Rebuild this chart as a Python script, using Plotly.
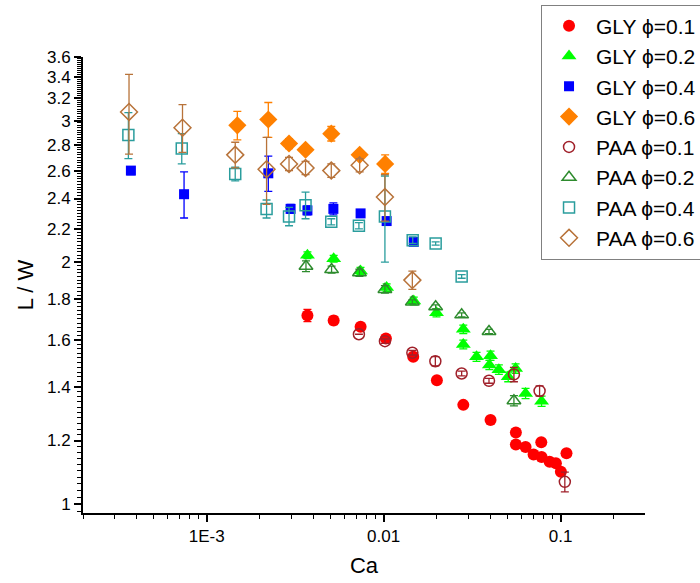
import numpy as np
import plotly.graph_objects as go

# ---------------- data ----------------
gly01_ca = [3.71e-3, 5.22e-3, 7.41e-3, 0.0103, 0.0147, 0.0200, 0.0282, 0.0402, 0.0559, 0.0559,
            0.0634, 0.0778, 0.0704, 0.0781, 0.0867, 0.0941, 0.1004, 0.108]
gly01_lw = [1.717, 1.692, 1.662, 1.607, 1.525, 1.426, 1.329, 1.273, 1.228, 1.186,
            1.178, 1.194, 1.153, 1.145, 1.129, 1.124, 1.097, 1.157]
gly01_err = [0.03, 0.02, 0.01, 0.01, 0.01, 0.0, 0.0, 0.0, 0.01, 0.0,
             0.0, 0.0, 0.0, 0.0, 0.0, 0.0, 0.0, 0.0]

gly02_ca = [3.71e-3, 5.22e-3, 7.4e-3, 0.0104, 0.0148, 0.0199, 0.0282, 0.0282, 0.0335, 0.0402,
            0.0396, 0.0448, 0.0506, 0.0557, 0.0634, 0.0781]
gly02_lw = [2.04, 2.02, 1.95, 1.86, 1.79, 1.73, 1.65, 1.58, 1.525, 1.53,
            1.49, 1.47, 1.44, 1.475, 1.373, 1.343]
gly02_err = [0.02, 0.02, 0.02, 0.02, 0.02, 0.02, 0.02, 0.02, 0.02, 0.02,
             0.02, 0.02, 0.02, 0.02, 0.02, 0.02]

gly04_ca = [3.73e-4, 7.45e-4, 2.23e-3, 2.98e-3, 3.71e-3, 5.2e-3, 7.41e-3, 0.0104, 0.0148]
gly04_lw = [2.60, 2.43, 2.58, 2.33, 2.32, 2.33, 2.30, 2.25, 2.12]
gly04_err = [0.03, 0.16, 0.13, 0.03, 0.03, 0.04, 0.02, 0.02, 0.01]

gly06_ca = [1.49e-3, 2.23e-3, 2.92e-3, 3.62e-3, 5.06e-3, 7.32e-3, 0.0102]
gly06_lw = [2.96, 3.01, 2.81, 2.76, 2.89, 2.72, 2.65]
gly06_err = [0.12, 0.15, 0.04, 0.03, 0.06, 0.03, 0.07]

paa01_ca = [7.25e-3, 0.01017, 0.01453, 0.0196, 0.0276, 0.0394, 0.0545, 0.0761, 0.1057]
paa01_lw = [1.627, 1.595, 1.543, 1.506, 1.454, 1.424, 1.45, 1.383, 1.066]
paa01_err = [0.0, 0.01, 0.01, 0.02, 0.01, 0.01, 0.03, 0.02, 0.03]

paa02_ca = [3.64e-3, 5.08e-3, 7.3e-3, 0.01017, 0.01453, 0.01968, 0.0276, 0.0394, 0.0545]
paa02_lw = [1.977, 1.958, 1.94, 1.85, 1.785, 1.76, 1.72, 1.64, 1.345]
paa02_err = [0.03, 0.02, 0.02, 0.02, 0.01, 0.01, 0.01, 0.01, 0.02]

paa04_ca = [3.61e-4, 7.23e-4, 1.45e-3, 2.18e-3, 2.92e-3, 3.62e-3, 5.06e-3, 7.25e-3, 0.01017,
            0.0146, 0.01968, 0.0276]
paa04_lw = [2.88, 2.77, 2.575, 2.33, 2.28, 2.355, 2.245, 2.22, 2.28, 2.13, 2.11, 1.92]
paa04_err = [0.19, 0.12, 0.05, 0.06, 0.06, 0.09, 0.02, 0.02, 0.28, 0.02, 0.01, 0.01]

paa06_ca = [3.64e-4, 7.3e-4, 1.45e-3, 2.18e-3, 2.92e-3, 3.62e-3, 5.06e-3, 7.32e-3, 0.01017, 0.01453]
paa06_lw = [3.076, 2.94, 2.72, 2.61, 2.65, 2.62, 2.60, 2.64, 2.41, 1.90]
paa06_err = [0.35, 0.2, 0.1, 0.25, 0.05, 0.05, 0.05, 0.05, 0.16, 0.05]

y_ticks = [1, 1.2, 1.4, 1.6, 1.8, 2, 2.2, 2.4, 2.6, 2.8, 3, 3.2, 3.4, 3.6]
y_ticktext = ["1", "1.2", "1.4", "1.6", "1.8", "2", "2.2", "2.4", "2.6", "2.8", "3", "3.2", "3.4", "3.6"]
x_ticks = [1e-3, 1e-2, 1e-1]
x_ticktext = ["1E-3", "0.01", "0.1"]

# ---------------- figure ----------------
FONT = "Liberation Sans, Arial, sans-serif"
series = [
    ("GLY \u03d5=0.1", gly01_ca, gly01_lw, gly01_err, "circle", "#FF0000", 12),
    ("GLY \u03d5=0.2", gly02_ca, gly02_lw, gly02_err, "triangle-up", "#00FF00", 13),
    ("GLY \u03d5=0.4", gly04_ca, gly04_lw, gly04_err, "square", "#0000FF", 10),
    ("GLY \u03d5=0.6", gly06_ca, gly06_lw, gly06_err, "diamond", "#FF8000", 14),
    ("PAA \u03d5=0.1", paa01_ca, paa01_lw, paa01_err, "circle-open", "#A0202A", 11),
    ("PAA \u03d5=0.2", paa02_ca, paa02_lw, paa02_err, "triangle-up-open", "#2E8B2E", 12),
    ("PAA \u03d5=0.4", paa04_ca, paa04_lw, paa04_err, "square-open", "#2A9D9D", 11),
    ("PAA \u03d5=0.6", paa06_ca, paa06_lw, paa06_err, "diamond-open", "#B8733A", 13),
]

fig = go.Figure()
for name, xs, ys, es, sym, col, sz in series:
    fig.add_trace(go.Scatter(
        x=xs, y=ys, mode="markers", name=name,
        marker=dict(symbol=sym, color=col, size=sz,
                    line=dict(width=1.5 if "open" in sym else 0, color=col)),
        error_y=dict(type="data", array=es, visible=True, color=col, thickness=1.3, width=4),
    ))

minor_x = [m * 10.0 ** e for e in range(-4, 0) for m in range(2, 10)]
minor_x = [v for v in minor_x if 2e-4 <= v <= 0.3]
minor_y = list(np.round(np.arange(0.98, 3.6001, 0.02), 2))

fig.update_layout(
    width=700, height=583,
    margin=dict(l=83, r=55, t=57, b=70, autoexpand=False),
    paper_bgcolor="white", plot_bgcolor="white",
    font=dict(family=FONT, color="black"),
    showlegend=True,
    legend=dict(x=0.815, y=1.115, xanchor="left", yanchor="top",
                bgcolor="white", bordercolor="#808080", borderwidth=1,
                font=dict(size=21, family=FONT), itemwidth=44,
                tracegroupgap=0),
    xaxis=dict(type="log", range=[np.log10(2e-4), np.log10(0.3)],
               tickvals=x_ticks, ticktext=x_ticktext,
               showline=True, linecolor="black", linewidth=2,
               ticks="outside", ticklen=7, tickwidth=1.5, tickcolor="black",
               tickfont=dict(size=17), showgrid=False, zeroline=False,
               minor=dict(tickvals=minor_x, ticks="outside", ticklen=4, tickwidth=1.2,
                          tickcolor="black", showgrid=False),
               title=dict(text="Ca", font=dict(size=22), standoff=12)),
    yaxis=dict(type="log", range=[np.log10(0.975), np.log10(3.6)],
               tickvals=y_ticks, ticktext=y_ticktext,
               showline=True, linecolor="black", linewidth=2,
               ticks="outside", ticklen=7, tickwidth=1.5, tickcolor="black",
               tickfont=dict(size=17), showgrid=False, zeroline=False,
               minor=dict(tickvals=minor_y, ticks="outside", ticklen=4, tickwidth=1,
                          tickcolor="black", showgrid=False),
               title=dict(text="L / W", font=dict(size=22), standoff=7)),
)

fig.write_html("out.html")
